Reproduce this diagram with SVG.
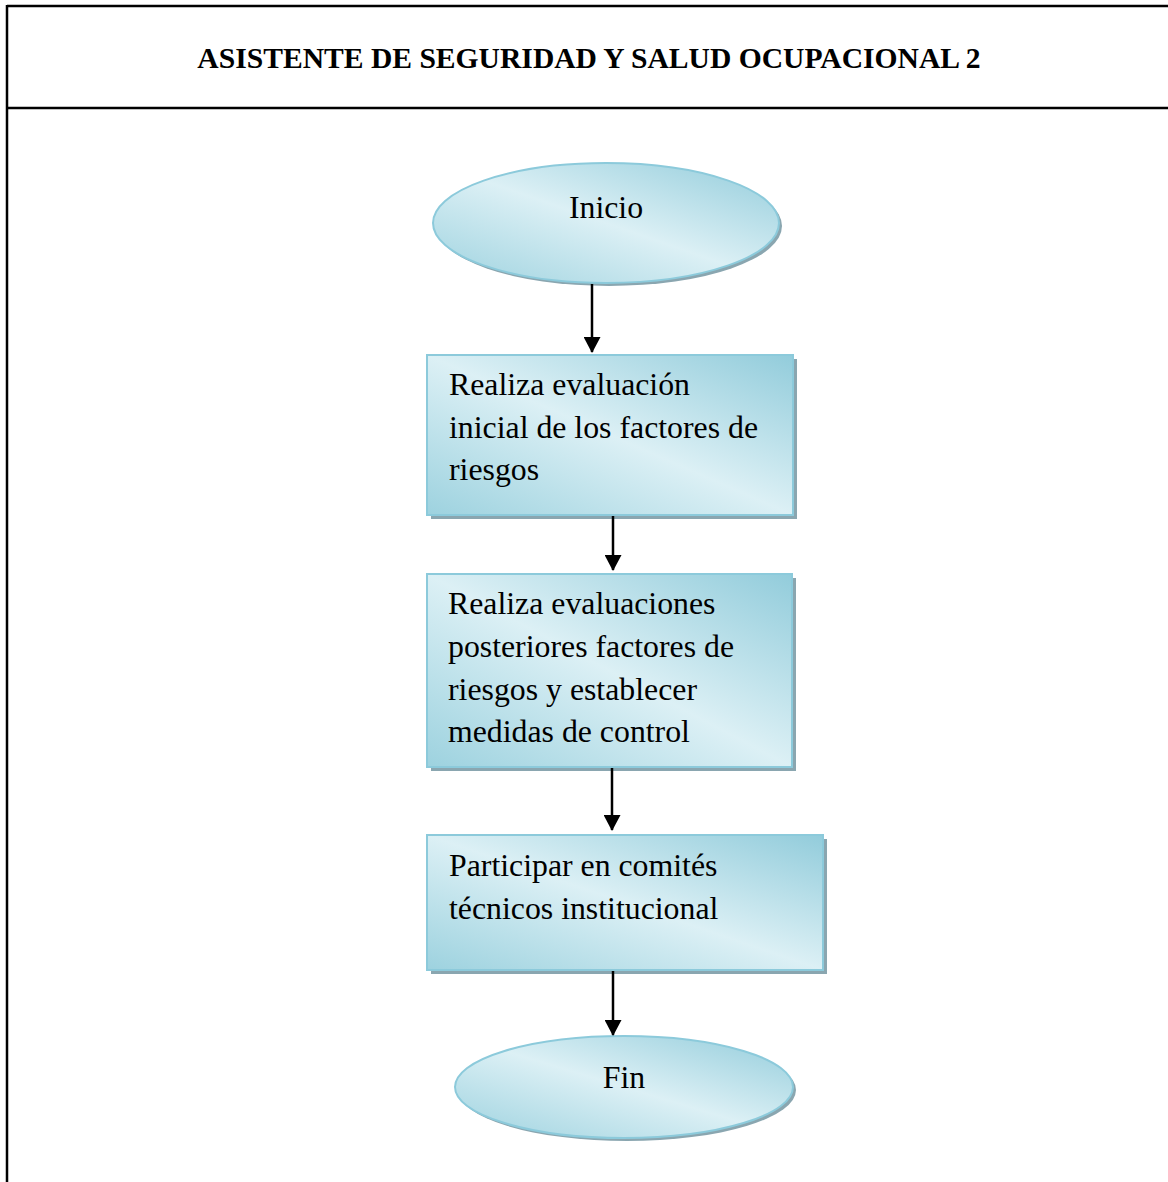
<svg xmlns="http://www.w3.org/2000/svg" width="1168" height="1182" viewBox="0 0 1168 1182">
<defs>
<linearGradient id="fill" x1="1" y1="0" x2="0" y2="1">
<stop offset="0" stop-color="#92ccdb"/>
<stop offset="0.5" stop-color="#dcf0f5"/>
<stop offset="1" stop-color="#9dd2df"/>
</linearGradient>
<marker id="arrow" markerWidth="18" markerHeight="17" refX="16" refY="9" orient="auto" markerUnits="userSpaceOnUse" viewBox="0 0 17 18">
<path d="M0,0 L17,9 L0,18 Z" fill="#000"/>
</marker>
</defs>
<style>
.frame{stroke:#000;stroke-width:2.5;fill:none}
.shape{fill:url(#fill);stroke:#8ccadb;stroke-width:2}
.shadow{fill:#8aa6b0}
.t{font-family:"Liberation Serif","Times New Roman",serif;font-size:31.8px;fill:#000}
.title{font-family:"Liberation Serif","Times New Roman",serif;font-size:29.6px;font-weight:bold;fill:#000}
.conn{stroke:#000;stroke-width:2.5;fill:none}
</style>
<g id="frame">
<line class="frame" x1="7" y1="6" x2="1168" y2="6"/>
<line class="frame" x1="7" y1="108" x2="1168" y2="108"/>
<line class="frame" x1="7" y1="5" x2="7" y2="1182"/>
<text class="title" x="589" y="68" text-anchor="middle">ASISTENTE DE SEGURIDAD Y SALUD OCUPACIONAL 2</text>
</g>
<g id="inicio">
<ellipse class="shadow" cx="609" cy="226" rx="173" ry="60"/>
<ellipse class="shape" cx="606" cy="223" rx="173" ry="60"/>
<text class="t" x="606" y="218" text-anchor="middle">Inicio</text>
</g>
<g id="paso1">
<rect class="shadow" x="431" y="359" width="366" height="160"/>
<rect class="shape" x="427" y="355" width="366" height="160"/>
<text class="t" x="449" y="395">Realiza evaluación</text>
<text class="t" x="449" y="438">inicial de los factores de</text>
<text class="t" x="449" y="480">riesgos</text>
</g>
<g id="paso2">
<rect class="shadow" x="431" y="578" width="365" height="193"/>
<rect class="shape" x="427" y="574" width="365" height="193"/>
<text class="t" x="448" y="614">Realiza evaluaciones</text>
<text class="t" x="448" y="657">posteriores factores de</text>
<text class="t" x="448" y="700">riesgos y establecer</text>
<text class="t" x="448" y="742">medidas de control</text>
</g>
<g id="paso3">
<rect class="shadow" x="431" y="839" width="396" height="135"/>
<rect class="shape" x="427" y="835" width="396" height="135"/>
<text class="t" x="449" y="876">Participar en comités</text>
<text class="t" x="449" y="919">técnicos institucional</text>
</g>
<g id="fin">
<ellipse class="shadow" cx="627" cy="1090" rx="169" ry="51"/>
<ellipse class="shape" cx="624" cy="1087" rx="169" ry="51"/>
<text class="t" x="624" y="1088" text-anchor="middle">Fin</text>
</g>
<g id="connectors">
<line class="conn" x1="592" y1="284" x2="592" y2="352" marker-end="url(#arrow)"/>
<line class="conn" x1="613" y1="516" x2="613" y2="570" marker-end="url(#arrow)"/>
<line class="conn" x1="612" y1="768" x2="612" y2="830" marker-end="url(#arrow)"/>
<line class="conn" x1="613" y1="971" x2="613" y2="1035" marker-end="url(#arrow)"/>
</g>
</svg>
